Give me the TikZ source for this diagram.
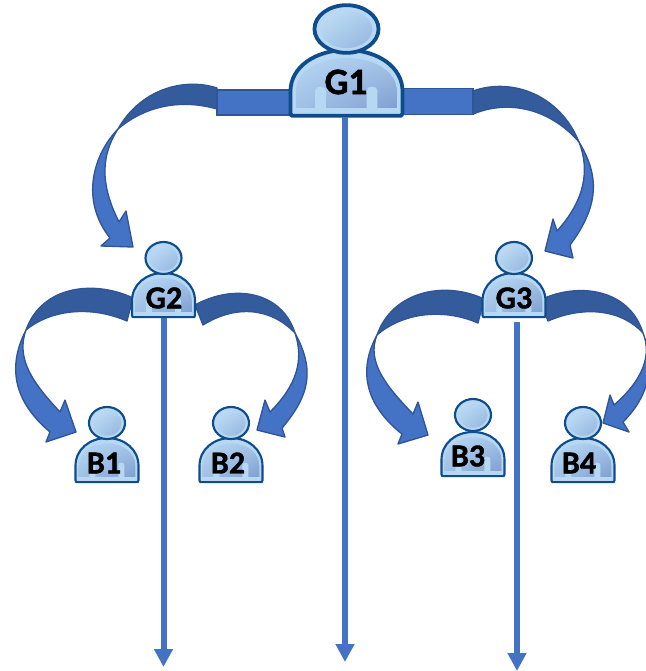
\documentclass[tikz,border=0pt]{standalone}
\usepackage{fontspec}
\setmainfont[BoldFeatures={FakeBold=1.2}]{Carlito}
\usetikzlibrary{arrows.meta,shadings}
\definecolor{bluelight}{HTML}{4472C4}
\definecolor{bluedark}{HTML}{345C9C}
\definecolor{blueedge}{HTML}{2F5597}
\definecolor{personedge}{HTML}{0F4C8C}
\definecolor{personrim}{HTML}{B6D8F3}
\definecolor{persondeep}{HTML}{7F9DD0}
\tikzset{
  stem/.style={draw=bluelight,line width=4.5pt,-{Triangle[length=13.5pt,width=13.5pt]}},
  barpart/.style={fill=bluelight,draw=blueedge,line width=1pt},
  twistdark/.style={fill=bluedark,draw=blueedge,line width=1pt,line join=round},
  twistlight/.style={fill=bluelight,draw=blueedge,line width=1pt,line join=round},
  who/.style={font=\bfseries\fontsize{24}{24}\selectfont,text=black,inner sep=0pt},
  whobig/.style={font=\bfseries\fontsize{28}{28}\selectfont,text=black,inner sep=0pt},
  inkfill/.style={fill=personrim,draw=personedge,line join=round},
  deepfill/.style={upper left=personrim,upper right=personrim!65!persondeep,lower left=personrim!60!persondeep,lower right=persondeep},
  headfill/.style={upper left=personrim!85!white,upper right=personrim!85!persondeep,lower left=personrim!80!persondeep,lower right=personrim!35!persondeep}
}
% name, cx, head cy, body top, x-factor, y-factor
\newcommand\person[6]{%
  \begin{scope}[shift={(#2,#4)},xscale=31.5*#5,yscale=45*#6]
    \path[inkfill,line width=1.6pt*#5]
      (-0.98,0.98) -- (-1,0.94) -- (-1,0.62) .. controls (-1,0.25) and (-0.55,0) .. (0,0)
      .. controls (0.55,0) and (1,0.25) .. (1,0.62) -- (1,0.94) -- (0.98,0.98) -- cycle;
    \path[deepfill,shade]
      (-0.9,0.9) -- (-0.9,0.62) .. controls (-0.9,0.32) and (-0.5,0.12) .. (0,0.12)
      .. controls (0.5,0.12) and (0.9,0.32) .. (0.9,0.62) -- (0.9,0.9) -- cycle;
    \fill[personrim] (-0.56,0.93) -- (-0.56,0.6) .. controls (-0.56,0.53) and (-0.37,0.53) .. (-0.37,0.6) -- (-0.37,0.93) -- cycle;
    \fill[personrim] (0.36,0.93) -- (0.36,0.6) .. controls (0.36,0.53) and (0.55,0.53) .. (0.55,0.6) -- (0.55,0.93) -- cycle;
    \fill[personrim] (-0.92,0.87) rectangle (0.92,0.93);
    \coordinate (#1foot) at (0,1);
  \end{scope}
  \begin{scope}[shift={(#2,#3)},xscale=#5,yscale=#6]
    \path[inkfill,line width=1.6pt*#5] (0,0) ellipse [x radius=18,y radius=16];
    \path[headfill,shade] (0,0) ellipse [x radius=14.5,y radius=12.8];
  \end{scope}
}
% dark twisted part, light part with the head
\newcommand\bendarrow[2]{%
  \path[twistdark] #1 -- cycle;
  \path[twistlight] #2 -- cycle;
}
\begin{document}
\begin{tikzpicture}[x=0.75pt,y=-0.75pt]
\useasboundingbox (0,0) rectangle (646,671);
\fill[white] (0,0) rectangle (646,671);

\coordinate (G1end) at (345,662);
\coordinate (G2end) at (163.5,667);
\coordinate (G3start) at (517,322);
\coordinate (G3end) at (517,671);

% curved arrows
\bendarrow{(217,88) .. controls (183,77) and (140,90) .. (118,129) .. controls (140,110) and (175,97) .. (217,109)}
  {(118,129) .. controls (93,155) and (80,200) .. (110,238) -- (101,246) -- (133,247) -- (126,211) -- (119,222) .. controls (103,190) and (98,160) .. (118,129)}
\bendarrow{(473,91) .. controls (512,77) and (560,95) .. (579,142) .. controls (555,114) and (515,97) .. (473,114)}
  {(579,142) .. controls (599,175) and (600,205) .. (570,245) -- (573,258) -- (545,251) -- (553,219) -- (557,231) .. controls (585,200) and (590,170) .. (579,142)}
\bendarrow{(133,298) .. controls (95,280) and (42,285) .. (26,330) .. controls (50,310) and (90,305) .. (127,321)}
  {(26,330) .. controls (8,365) and (12,400) .. (50,432) -- (46,442) -- (76,432) -- (65,400) -- (60,412) .. controls (35,385) and (15,360) .. (26,330)}
\bendarrow{(195,305) .. controls (235,283) and (282,292) .. (295,333) .. controls (270,307) and (235,305) .. (203,325)}
  {(295,333) .. controls (315,370) and (310,395) .. (282,428) -- (285,437) -- (257,430) -- (265,400) -- (270,412) .. controls (297,385) and (304,360) .. (295,333)}
\bendarrow{(484,299) .. controls (446,281) and (393,290) .. (377,335) .. controls (401,314) and (441,307) .. (478,323)}
  {(377,335) .. controls (359,368) and (363,403) .. (402,434) -- (398,444) -- (428,435) -- (418,402) -- (413,414) .. controls (387,387) and (366,362) .. (377,335)}
\bendarrow{(540,300) .. controls (580,281) and (630,290) .. (643,333) .. controls (622,310) and (585,305) .. (548,321)}
  {(643,333) .. controls (655,365) and (650,395) .. (623,422) -- (629,432) -- (603,423) -- (610,395) -- (614,405) .. controls (643,380) and (652,355) .. (643,333)}

% bars from G1
\path[barpart] (217,90) rectangle (300,115);
\path[barpart] (395,88.5) rectangle (473,114.5);

% people
\person{G1}{346.5}{29}{50}{1.78}{1.49}
\person{G2}{163.5}{258}{273}{1}{1}
\person{G3}{514}{258}{273}{1}{1}
\person{B1}{107}{423}{438}{1}{1}
\person{B2}{231}{423}{438}{1}{1}
\person{B3}{473}{415}{432}{1}{1}
\person{B4}{583}{423}{438}{1}{1}

% straight arrows
\draw[stem] (G1foot) ++(-1.5,0) -- (G1end);
\draw[stem] (G2foot) -- (G2end);
\draw[stem] (G3start) -- (G3end);

% labels
\node[whobig] (G1) at (346,82) {G1};
\node[who] (G2) at (164,298) {G2};
\node[who] (G3) at (514,298) {G3};
\node[who] (B1) at (104,463) {B1};
\node[who] (B2) at (228,463) {B2};
\node[who] (B3) at (468,456) {B3};
\node[who] (B4) at (579,463) {B4};
\end{tikzpicture}
\end{document}
